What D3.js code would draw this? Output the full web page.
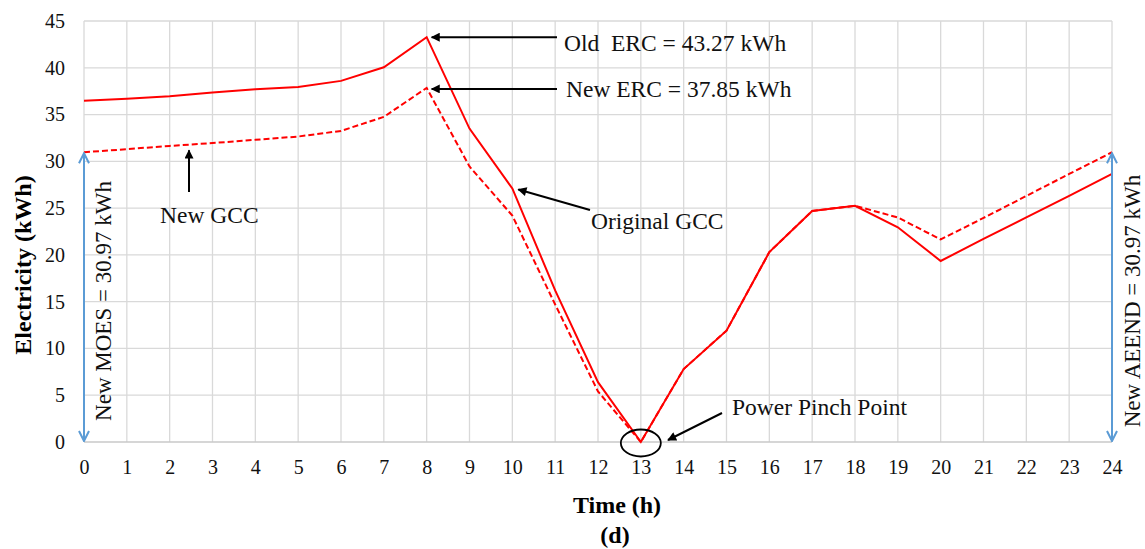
<!DOCTYPE html>
<html>
<head>
<meta charset="utf-8">
<script src="https://cdn.jsdelivr.net/npm/d3@7"></script>
<style>
  html, body { margin: 0; padding: 0; background: #fff; }
  svg { display: block; font-family: "Liberation Serif", "Times New Roman", serif; }
</style>
</head>
<body>
<svg id="chart" width="1145" height="549"></svg>
<script>
const hours = [0,1,2,3,4,5,6,7,8,9,10,11,12,13,14,15,16,17,18,19,20,21,22,23,24];
const originalGCC = [36.47,36.7,36.95,37.35,37.7,37.95,38.6,40.05,43.27,33.5,27.1,16.2,6.4,0,7.8,11.9,20.3,24.7,25.25,22.95,19.35,21.7,24.0,26.3,28.65];
const newGCC = [30.97,31.3,31.65,31.95,32.3,32.65,33.25,34.75,37.85,29.45,24.2,14.7,5.4,0,7.8,11.9,20.3,24.7,25.25,24.0,21.65,23.95,26.3,28.65,30.97];
const xTicks = hours;
const yTicks = [0,5,10,15,20,25,30,35,40,45];
const moes = 30.97, aeend = 30.97;

const svg = d3.select("#chart");
const x = d3.scaleLinear().domain([0,24]).range([84,1112]);
const y = d3.scaleLinear().domain([0,45]).range([442,21]);

const defs = svg.append("defs");
defs.append("marker").attr("id","arrowBlack").attr("viewBox","0 0 10 10")
  .attr("refX",9).attr("refY",5).attr("markerWidth",11).attr("markerHeight",9)
  .attr("markerUnits","userSpaceOnUse").attr("orient","auto")
  .append("path").attr("d","M0,0 L10,5 L0,10 Z").attr("fill","#000");
defs.append("marker").attr("id","arrowBlue").attr("viewBox","0 0 12 12")
  .attr("refX",11).attr("refY",6).attr("markerWidth",12).attr("markerHeight",12)
  .attr("markerUnits","userSpaceOnUse").attr("orient","auto-start-reverse")
  .append("path").attr("d","M1,1 L11,6 L1,11").attr("fill","none")
  .attr("stroke","#5b9bd5").attr("stroke-width",2);

// gridlines
const grid = svg.append("g");
grid.selectAll("line.v").data(xTicks).join("line")
  .attr("x1",d=>x(d)).attr("x2",d=>x(d)).attr("y1",y(0)).attr("y2",y(45))
  .attr("stroke","#d9d9d9").attr("stroke-width",1.3);
grid.selectAll("line.h").data(yTicks).join("line")
  .attr("x1",x(0)).attr("x2",x(24)).attr("y1",d=>y(d)).attr("y2",d=>y(d))
  .attr("stroke",d=>d===0?"#c8c8c8":"#d9d9d9").attr("stroke-width",1.3);

// axes (labels only)
const xAxis = svg.append("g").attr("transform",`translate(0,${y(0)})`)
  .call(d3.axisBottom(x).tickValues(xTicks).tickSize(0).tickPadding(18).tickFormat(d3.format("d")));
xAxis.select(".domain").remove();
xAxis.selectAll("text").attr("font-size",20).attr("fill","#111").attr("font-family","Liberation Serif");

const yAxis = svg.append("g").attr("transform",`translate(${x(0)},0)`)
  .call(d3.axisLeft(y).tickValues(yTicks).tickSize(0).tickPadding(19).tickFormat(d3.format("d")));
yAxis.select(".domain").remove();
yAxis.selectAll("text").attr("font-size",20).attr("fill","#111").attr("font-family","Liberation Serif");

// axis titles
svg.append("text").attr("x",617).attr("y",513).attr("text-anchor","middle")
  .attr("font-size",24).attr("font-weight","bold").text("Time (h)");
svg.append("text").attr("x",615).attr("y",543).attr("text-anchor","middle")
  .attr("font-size",24).attr("font-weight","bold").text("(d)");
svg.append("text").attr("transform","translate(31,265) rotate(-90)").attr("text-anchor","middle")
  .attr("font-size",24).attr("font-weight","bold").text("Electricity (kWh)");

// lines
const line = d3.line().x((d,i)=>x(hours[i])).y(d=>y(d));
svg.append("path").datum(newGCC).attr("d",line).attr("fill","none")
  .attr("stroke","#ff0000").attr("stroke-width",2).attr("stroke-dasharray","6,3");
svg.append("path").datum(originalGCC).attr("d",line).attr("fill","none")
  .attr("stroke","#ff0000").attr("stroke-width",2);

// blue double arrows
svg.append("line").attr("x1",x(0)).attr("x2",x(0)).attr("y1",y(moes)+1).attr("y2",y(0)-1)
  .attr("stroke","#5b9bd5").attr("stroke-width",2)
  .attr("marker-start","url(#arrowBlue)").attr("marker-end","url(#arrowBlue)");
svg.append("line").attr("x1",x(24)).attr("x2",x(24)).attr("y1",y(aeend)+1).attr("y2",y(0)-1)
  .attr("stroke","#5b9bd5").attr("stroke-width",2)
  .attr("marker-start","url(#arrowBlue)").attr("marker-end","url(#arrowBlue)");

svg.append("text").attr("transform","translate(111,301) rotate(-90)").attr("text-anchor","middle")
  .attr("font-size",23).attr("fill","#111").text("New MOES = 30.97 kWh");
svg.append("text").attr("transform","translate(1140,301) rotate(-90)").attr("text-anchor","middle")
  .attr("font-size",23).attr("fill","#111").text("New AEEND = 30.97 kWh");

// annotations
function arrow(x1,y1,x2,y2){
  svg.append("line").attr("x1",x1).attr("y1",y1).attr("x2",x2).attr("y2",y2)
    .attr("stroke","#000").attr("stroke-width",2).attr("marker-end","url(#arrowBlack)");
}
arrow(557, y(43.27), x(8)+5, y(43.27));
svg.append("text").attr("x",564).attr("y",51).attr("font-size",23.5).attr("fill","#111")
  .attr("xml:space","preserve").text("Old  ERC = 43.27 kWh");
arrow(557, y(37.85)+1, x(8)+5, y(37.85)+1);
svg.append("text").attr("x",566).attr("y",97).attr("font-size",23.5).attr("fill","#111")
  .text("New ERC = 37.85 kWh");
arrow(590, 210, x(10)+6, y(27.1)+1);
svg.append("text").attr("x",591).attr("y",229).attr("font-size",23.5).attr("fill","#111")
  .text("Original GCC");
arrow(189, 192, 189, y(31.6)+4);
svg.append("text").attr("x",160).attr("y",223).attr("font-size",23.5).attr("fill","#111")
  .text("New GCC");
svg.append("ellipse").attr("cx",x(13)).attr("cy",y(0)+1).attr("rx",20).attr("ry",13.5)
  .attr("fill","none").attr("stroke","#000").attr("stroke-width",1.8);
arrow(722, 413, 668, 440);
svg.append("text").attr("x",732).attr("y",415).attr("font-size",23.5).attr("fill","#111")
  .text("Power Pinch Point");
</script>
</body>
</html>
